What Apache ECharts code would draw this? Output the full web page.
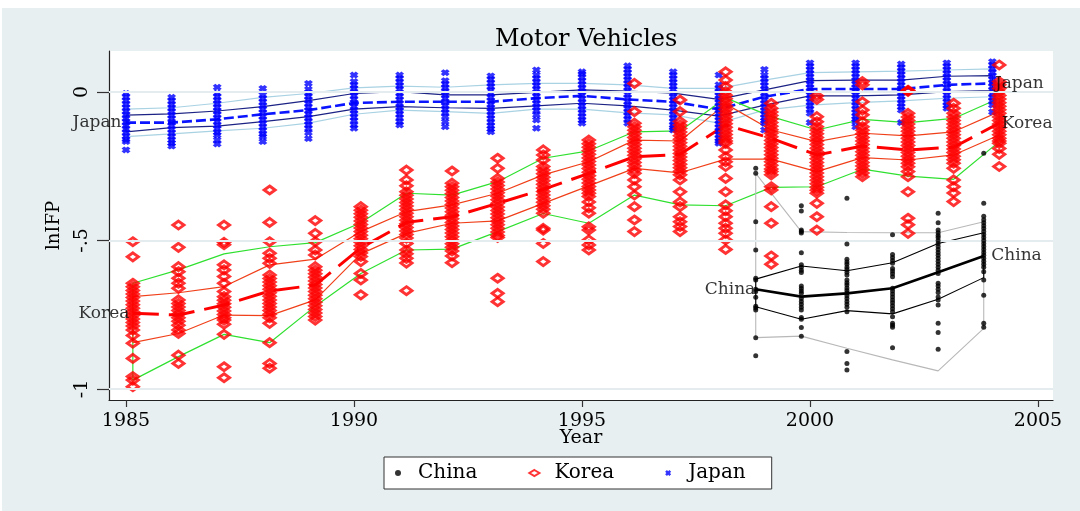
<!DOCTYPE html>
<html><head><meta charset="utf-8">
<script src="https://cdn.jsdelivr.net/npm/echarts@6/dist/echarts.min.js"></script>
<style>html,body{margin:0;padding:0;background:#fff}#c{width:1080px;height:511px}</style>
</head><body><div id="c"></div><script>
// ---------------- data ----------------
const years = [1985,1986,1987,1988,1989,1990,1991,1992,1993,1994,1995,1996,1997,1998,1999,2000,2001,2002,2003,2004];
const cnYears = [1999,2000,2001,2002,2003,2004];
const xTicks = [1985,1990,1995,2000,2005];
const xTickLabels = ['1985','1990','1995','2000','2005'];
const yTicks = [-1,-0.5,0];
const yTickLabels = ['-1','-.5','0'];
const countryNames = ['China','Korea','Japan'];

// Japan: mean, +/-1 sd, +/-2 sd
const jpMean  = [-0.103,-0.103,-0.092,-0.075,-0.061,-0.037,-0.033,-0.033,-0.033,-0.021,-0.013,-0.025,-0.033,-0.058,-0.016,0.010,0.010,0.010,0.024,0.029];
const jpSdUp  = [-0.078,-0.074,-0.064,-0.049,-0.029,-0.005,0.001,-0.010,-0.010,-0.001,0.007,0.003,-0.004,-0.025,0.007,0.038,0.040,0.040,0.053,0.055];
const jpSdLo  = [-0.134,-0.120,-0.115,-0.100,-0.083,-0.058,-0.049,-0.053,-0.055,-0.047,-0.038,-0.047,-0.061,-0.081,-0.044,-0.013,-0.013,-0.010,0.001,0.005];
const jpSd2Up = [-0.058,-0.053,-0.038,-0.018,-0.005,0.014,0.020,0.016,0.024,0.029,0.029,0.024,0.012,0.012,0.040,0.065,0.068,0.070,0.074,0.078];
const jpSd2Lo = [-0.150,-0.141,-0.131,-0.122,-0.105,-0.075,-0.061,-0.066,-0.072,-0.058,-0.058,-0.070,-0.077,-0.105,-0.061,-0.044,-0.036,-0.030,-0.021,-0.016];

// Korea
const krMean  = [-0.745,-0.751,-0.717,-0.670,-0.650,-0.525,-0.439,-0.420,-0.375,-0.328,-0.274,-0.218,-0.210,-0.111,-0.156,-0.212,-0.182,-0.195,-0.186,-0.105];
const krSdUp  = [-0.689,-0.676,-0.655,-0.582,-0.563,-0.470,-0.403,-0.380,-0.341,-0.279,-0.235,-0.162,-0.165,-0.040,-0.128,-0.167,-0.139,-0.148,-0.134,-0.066];
const krSdLo  = [-0.844,-0.813,-0.751,-0.753,-0.700,-0.545,-0.476,-0.442,-0.434,-0.375,-0.316,-0.257,-0.272,-0.226,-0.226,-0.268,-0.221,-0.229,-0.212,-0.145];
const krSd2Up = [-0.644,-0.599,-0.545,-0.521,-0.507,-0.440,-0.341,-0.347,-0.302,-0.223,-0.198,-0.134,-0.131,-0.020,-0.083,-0.128,-0.092,-0.103,-0.089,-0.021];
const krSd2Lo = [-0.970,-0.891,-0.816,-0.844,-0.721,-0.611,-0.532,-0.529,-0.470,-0.409,-0.442,-0.347,-0.380,-0.383,-0.321,-0.319,-0.260,-0.283,-0.294,-0.167];

// China
const cnMean  = [-0.664,-0.689,-0.678,-0.661,-0.607,-0.552];
const cnSdUp  = [-0.630,-0.586,-0.602,-0.575,-0.510,-0.474];
const cnSdLo  = [-0.723,-0.765,-0.736,-0.747,-0.698,-0.625];
const cnSd2Up = [-0.274,-0.470,-0.473,-0.474,-0.474,-0.437];
const cnSd2Lo = [-0.827,-0.822,-0.863,-0.902,-0.939,-0.796];

// firm-level observations, one list per year
const jpPts = [
 [-0.005,-0.017,-0.029,-0.041,-0.053,-0.065,-0.077,-0.089,-0.101,-0.113,-0.125,-0.137,-0.149,-0.16,-0.167,-0.195],
 [-0.018,-0.03,-0.042,-0.054,-0.066,-0.078,-0.09,-0.102,-0.114,-0.126,-0.138,-0.15,-0.162,-0.172,-0.182],
 [0.016,-0.004,-0.016,-0.028,-0.04,-0.052,-0.064,-0.076,-0.088,-0.1,-0.112,-0.124,-0.136,-0.145,-0.162,-0.175],
 [0.012,-0.01,-0.022,-0.034,-0.046,-0.058,-0.07,-0.082,-0.094,-0.106,-0.118,-0.13,-0.142,-0.15,-0.167],
 [0.029,0.009,-0.003,-0.015,-0.027,-0.039,-0.051,-0.063,-0.075,-0.087,-0.099,-0.111,-0.123,-0.137,-0.157],
 [0.057,0.035,0.023,0.011,-0.001,-0.013,-0.025,-0.037,-0.049,-0.061,-0.073,-0.085,-0.097,-0.111,-0.122],
 [0.057,0.045,0.033,0.021,0.009,-0.003,-0.015,-0.027,-0.039,-0.051,-0.063,-0.075,-0.087,-0.1,-0.111],
 [0.065,0.038,0.026,0.014,0.002,-0.01,-0.022,-0.034,-0.046,-0.058,-0.07,-0.083,-0.1,-0.117],
 [0.054,0.042,0.03,0.018,0.006,-0.006,-0.018,-0.03,-0.042,-0.054,-0.066,-0.078,-0.09,-0.102,-0.114,-0.125,-0.134],
 [0.074,0.057,0.045,0.033,0.021,0.009,-0.003,-0.015,-0.027,-0.039,-0.051,-0.063,-0.077,-0.094,-0.122],
 [0.068,0.061,0.049,0.037,0.025,0.013,0.001,-0.011,-0.023,-0.035,-0.047,-0.059,-0.071,-0.083,-0.095,-0.105],
 [0.088,0.076,0.064,0.052,0.04,0.028,0.016,0.004,-0.008,-0.02,-0.032,-0.044,-0.056,-0.068,-0.08,-0.092,-0.105],
 [0.068,0.056,0.044,0.032,0.02,0.008,-0.004,-0.016,-0.028,-0.04,-0.052,-0.064,-0.076,-0.088,-0.1,-0.112,-0.12,-0.128],
 [0.057,0.024,0.012,0,-0.012,-0.024,-0.036,-0.048,-0.06,-0.072,-0.084,-0.096,-0.108,-0.12,-0.132,-0.144,-0.156,-0.166,-0.173],
 [0.076,0.057,0.045,0.033,0.021,0.009,-0.003,-0.015,-0.027,-0.039,-0.051,-0.063,-0.075,-0.087,-0.097,-0.105,-0.128],
 [0.098,0.086,0.074,0.062,0.05,0.038,0.026,0.014,0.002,-0.01,-0.022,-0.034,-0.046,-0.058,-0.072,-0.103],
 [0.098,0.086,0.074,0.062,0.05,0.038,0.026,0.014,0.002,-0.01,-0.022,-0.034,-0.046,-0.058,-0.07,-0.082,-0.092,-0.1,-0.117],
 [0.094,0.082,0.07,0.058,0.046,0.034,0.022,0.01,-0.002,-0.014,-0.026,-0.038,-0.05,-0.061,-0.103],
 [0.098,0.086,0.074,0.062,0.05,0.038,0.026,0.014,0.002,-0.01,-0.022,-0.034,-0.046,-0.055],
 [0.102,0.09,0.078,0.066,0.054,0.042,0.03,0.018,0.006,-0.006,-0.018,-0.03,-0.044,-0.067]
];
const krPts = [
 [-0.504,-0.555,-0.644,-0.656,-0.668,-0.68,-0.692,-0.704,-0.716,-0.728,-0.74,-0.752,-0.764,-0.776,-0.788,-0.801,-0.82,-0.846,-0.897,-0.958,-0.97,-0.992],
 [-0.448,-0.523,-0.588,-0.605,-0.627,-0.644,-0.661,-0.7,-0.712,-0.724,-0.736,-0.748,-0.76,-0.772,-0.785,-0.801,-0.813,-0.886,-0.914],
 [-0.448,-0.506,-0.514,-0.582,-0.599,-0.621,-0.644,-0.672,-0.689,-0.701,-0.713,-0.725,-0.737,-0.749,-0.76,-0.768,-0.782,-0.816,-0.925,-0.962],
 [-0.33,-0.439,-0.504,-0.543,-0.56,-0.577,-0.616,-0.628,-0.64,-0.652,-0.664,-0.676,-0.688,-0.7,-0.712,-0.724,-0.736,-0.748,-0.76,-0.779,-0.844,-0.914,-0.93],
 [-0.433,-0.476,-0.504,-0.532,-0.549,-0.588,-0.6,-0.612,-0.624,-0.636,-0.648,-0.66,-0.672,-0.684,-0.696,-0.708,-0.72,-0.732,-0.744,-0.756,-0.768],
 [-0.386,-0.398,-0.41,-0.422,-0.434,-0.446,-0.458,-0.47,-0.482,-0.494,-0.506,-0.518,-0.53,-0.542,-0.554,-0.571,-0.611,-0.633,-0.683],
 [-0.263,-0.296,-0.316,-0.336,-0.348,-0.36,-0.372,-0.384,-0.396,-0.408,-0.42,-0.432,-0.444,-0.456,-0.468,-0.48,-0.492,-0.51,-0.532,-0.545,-0.56,-0.576,-0.669],
 [-0.266,-0.307,-0.319,-0.331,-0.343,-0.355,-0.367,-0.379,-0.391,-0.403,-0.415,-0.427,-0.439,-0.451,-0.463,-0.475,-0.487,-0.499,-0.511,-0.523,-0.535,-0.552,-0.575],
 [-0.223,-0.257,-0.291,-0.303,-0.315,-0.327,-0.339,-0.351,-0.363,-0.375,-0.387,-0.399,-0.411,-0.423,-0.435,-0.447,-0.459,-0.471,-0.483,-0.49,-0.627,-0.678,-0.706],
 [-0.195,-0.212,-0.229,-0.251,-0.263,-0.275,-0.287,-0.299,-0.311,-0.323,-0.335,-0.347,-0.359,-0.371,-0.383,-0.395,-0.408,-0.459,-0.465,-0.51,-0.571],
 [-0.162,-0.174,-0.186,-0.198,-0.21,-0.222,-0.234,-0.246,-0.258,-0.27,-0.282,-0.294,-0.306,-0.318,-0.33,-0.341,-0.352,-0.37,-0.39,-0.408,-0.454,-0.465,-0.498,-0.515,-0.532],
 [0.029,-0.066,-0.105,-0.117,-0.129,-0.141,-0.153,-0.165,-0.177,-0.189,-0.201,-0.213,-0.225,-0.237,-0.249,-0.263,-0.274,-0.296,-0.319,-0.347,-0.386,-0.431,-0.47],
 [-0.027,-0.066,-0.099,-0.111,-0.123,-0.135,-0.147,-0.159,-0.171,-0.183,-0.195,-0.207,-0.219,-0.231,-0.243,-0.255,-0.267,-0.279,-0.296,-0.336,-0.37,-0.386,-0.42,-0.437,-0.453,-0.47],
 [0.068,0.04,0.018,0.001,-0.011,-0.023,-0.035,-0.047,-0.059,-0.071,-0.083,-0.095,-0.107,-0.119,-0.131,-0.143,-0.155,-0.165,-0.173,-0.195,-0.218,-0.235,-0.251,-0.291,-0.336,-0.38,-0.4,-0.42,-0.442,-0.459,-0.476,-0.498,-0.53],
 [-0.038,-0.055,-0.067,-0.079,-0.091,-0.103,-0.115,-0.127,-0.139,-0.151,-0.163,-0.175,-0.187,-0.199,-0.211,-0.223,-0.235,-0.247,-0.259,-0.268,-0.279,-0.319,-0.33,-0.386,-0.442,-0.552,-0.58],
 [-0.013,-0.025,-0.083,-0.1,-0.117,-0.129,-0.141,-0.153,-0.165,-0.177,-0.189,-0.201,-0.213,-0.225,-0.237,-0.249,-0.261,-0.273,-0.285,-0.297,-0.309,-0.321,-0.331,-0.341,-0.375,-0.42,-0.465],
 [0.035,0.024,-0.033,-0.061,-0.077,-0.1,-0.117,-0.129,-0.141,-0.153,-0.165,-0.177,-0.189,-0.201,-0.213,-0.225,-0.237,-0.249,-0.261,-0.273,-0.285],
 [0.004,0.006,0.002,-0.072,-0.084,-0.096,-0.108,-0.12,-0.132,-0.144,-0.156,-0.168,-0.18,-0.192,-0.204,-0.216,-0.228,-0.24,-0.252,-0.268,-0.285,-0.336,-0.425,-0.447,-0.476],
 [-0.038,-0.055,-0.072,-0.084,-0.096,-0.108,-0.12,-0.132,-0.144,-0.156,-0.168,-0.18,-0.192,-0.204,-0.216,-0.228,-0.24,-0.257,-0.296,-0.319,-0.34,-0.369],
 [0.091,0.035,0.024,0.012,0,-0.012,-0.024,-0.036,-0.048,-0.06,-0.072,-0.084,-0.096,-0.108,-0.12,-0.132,-0.144,-0.156,-0.165,-0.173,-0.19,-0.21,-0.251]
];
const cnPts = [
 [-0.257,-0.274,-0.437,-0.532,-0.627,-0.633,-0.664,-0.672,-0.691,-0.721,-0.727,-0.734,-0.827,-0.888],
 [-0.383,-0.401,-0.465,-0.47,-0.475,-0.541,-0.582,-0.59,-0.6,-0.608,-0.653,-0.662,-0.67,-0.678,-0.695,-0.705,-0.715,-0.725,-0.734,-0.759,-0.765,-0.793,-0.822],
 [-0.358,-0.512,-0.563,-0.572,-0.58,-0.59,-0.598,-0.607,-0.616,-0.633,-0.642,-0.65,-0.66,-0.668,-0.677,-0.686,-0.695,-0.705,-0.715,-0.725,-0.74,-0.874,-0.914,-0.936],
 [-0.481,-0.547,-0.557,-0.567,-0.577,-0.594,-0.603,-0.612,-0.622,-0.661,-0.67,-0.68,-0.69,-0.7,-0.71,-0.72,-0.73,-0.74,-0.757,-0.779,-0.785,-0.792,-0.861],
 [-0.408,-0.44,-0.465,-0.474,-0.483,-0.49,-0.5,-0.51,-0.52,-0.53,-0.54,-0.55,-0.56,-0.57,-0.58,-0.59,-0.6,-0.611,-0.644,-0.653,-0.664,-0.675,-0.69,-0.7,-0.717,-0.779,-0.81,-0.866],
 [-0.206,-0.375,-0.418,-0.43,-0.44,-0.45,-0.46,-0.47,-0.48,-0.49,-0.5,-0.51,-0.52,-0.53,-0.54,-0.55,-0.56,-0.57,-0.58,-0.59,-0.605,-0.633,-0.684,-0.779,-0.792]
];

// horizontal jitter of each country's markers (years)
const OFF = {Japan: 0, Korea: 0.15, China: -0.19};

// ---------------- helpers ----------------
function scatterData(ys, arrs, off) {
  const out = [];
  ys.forEach((y, i) => arrs[i].forEach(v => out.push([y + off, v])));
  return out;
}
function lineData(ys, vals, off) { return ys.map((y, i) => [y + off, vals[i]]); }
function bandData(ys, up, lo, off) {
  const a = ys.map((y, i) => [y + off, up[i]]);
  const b = ys.map((y, i) => [y + off, lo[i]]).reverse();
  return a.concat(b, [a[0]]);
}
function ln(name, data, color, width, type, z) {
  return {type: 'line', name: name, data: data, showSymbol: false, symbol: 'none', silent: true,
          lineStyle: {color: color, width: width, type: type}, z: z, animation: false};
}
function pick(ticks, labels, v) {
  let k = 0; ticks.forEach((t, i) => { if (Math.abs(t - v) < 1e-9) k = i; }); return labels[k];
}
const SERIF = 'DejaVu Serif';
const XPATH = 'path://M0,3L3,0L5,2L7,0L10,3L8,5L10,7L7,10L5,8L3,10L0,7L2,5Z';
const n = years.length - 1, m = cnYears.length - 1;

const series = [
  {type: 'line', name: '_grid', data: [], silent: true, z: 1,
   markLine: {silent: true, symbol: 'none', label: {show: false}, animation: false,
     lineStyle: {color: '#e4ecef', width: 2, type: 'solid'},
     data: yTicks.map(v => ({yAxis: v}))}},
  ln('jp2', bandData(years, jpSd2Up, jpSd2Lo, OFF.Japan), '#a9d2e3', 1.2, 'solid', 2),
  ln('jp1', bandData(years, jpSdUp, jpSdLo, OFF.Japan), '#1c2384', 1.2, 'solid', 2),
  ln('jpm', lineData(years, jpMean, OFF.Japan), '#0a14ff', 2.6, [10, 4], 2),
  ln('kr2', bandData(years, krSd2Up, krSd2Lo, OFF.Korea), '#30e030', 1.2, 'solid', 2),
  ln('kr1', bandData(years, krSdUp, krSdLo, OFF.Korea), '#f0401a', 1.2, 'solid', 2),
  ln('krm', lineData(years, krMean, OFF.Korea), '#ff0000', 3, [26, 10], 2),
  ln('cn2', bandData(cnYears, cnSd2Up, cnSd2Lo, OFF.China), '#b8b8b8', 1.1, 'solid', 2),
  ln('cn1', bandData(cnYears, cnSdUp, cnSdLo, OFF.China), '#000', 1.1, 'solid', 2),
  ln('cnm', lineData(cnYears, cnMean, OFF.China), '#000', 2.6, 'solid', 2),
  {type: 'scatter', name: 'Japan', data: scatterData(years, jpPts, OFF.Japan), symbol: XPATH,
   symbolSize: [9, 7], itemStyle: {color: '#0000ff'}, z: 3, silent: true, animation: false},
  {type: 'scatter', name: 'Korea', data: scatterData(years, krPts, OFF.Korea), symbol: 'diamond',
   symbolSize: [11, 8], itemStyle: {color: 'rgba(255,255,255,0)', borderColor: '#ff0000', borderWidth: 3}, z: 4, silent: true, animation: false},
  {type: 'scatter', name: 'China', data: scatterData(cnYears, cnPts, OFF.China), symbol: 'circle',
   symbolSize: 5, itemStyle: {color: '#000'}, z: 5, silent: true, animation: false},
  {type: 'scatter', name: '_labels', symbolSize: 1, silent: true, z: 6, animation: false,
   itemStyle: {color: 'rgba(0,0,0,0)'},
   label: {show: true, fontFamily: SERIF, fontSize: 17, color: '#000', formatter: p => p.name},
   data: [
     {name: 'Japan', value: [years[0] + OFF.Japan, jpMean[0]], label: {position: 'left', distance: 4}},
     {name: 'Korea', value: [years[0] + OFF.Korea, krMean[0]], label: {position: 'left', distance: 3}},
     {name: 'China', value: [cnYears[0] + OFF.China, cnMean[0]], label: {position: 'left', distance: 0}},
     {name: 'Japan', value: [years[n] + OFF.Japan, jpMean[n]], label: {position: 'right', distance: 2}},
     {name: 'Korea', value: [years[n] + OFF.Korea, krMean[n]], label: {position: 'right', distance: 2}},
     {name: 'China', value: [cnYears[m] + OFF.China, cnMean[m]], label: {position: 'right', distance: 7}}
   ]}
];

const option = {
  animation: false,
  backgroundColor: '#e8eff1',
  graphic: [
    {type: 'rect', left: 0, top: 0, shape: {width: 1080, height: 8}, style: {fill: '#fff'}, silent: true, z: -10},
    {type: 'rect', left: 0, top: 0, shape: {width: 2, height: 511}, style: {fill: '#fff'}, silent: true, z: -10}
  ],
  title: {text: 'Motor Vehicles', left: 490, top: 23,
          textStyle: {fontFamily: SERIF, fontSize: 24, fontWeight: 'normal', color: '#000'}},
  grid: {left: 109, right: 27, top: 51, bottom: 111, show: true, backgroundColor: '#fff', borderWidth: 0},
  legend: {
    data: [{name: 'China', icon: 'circle'}, {name: 'Korea', icon: 'diamond'}, {name: 'Japan', icon: XPATH}],
    left: 384, top: 457, orient: 'horizontal', padding: [5, 26, 5, 11],
    itemWidth: 10, itemHeight: 6, itemGap: 51, selectedMode: false,
    borderColor: '#333', borderWidth: 1, backgroundColor: '#fff', borderRadius: 0,
    textStyle: {fontFamily: SERIF, fontSize: 20, color: '#000', padding: [0, 0, 0, 10], lineHeight: 22}
  },
  xAxis: {
    type: 'value', min: 1984.627, max: 2005.329,
    name: 'Year', nameLocation: 'middle', nameGap: 29, nameMoveOverlap: false,
    nameTextStyle: {fontFamily: SERIF, fontSize: 19, color: '#000'},
    axisLine: {show: true, onZero: false, lineStyle: {color: '#222', width: 1.2}},
    axisTick: {show: true, length: 7, customValues: xTicks, lineStyle: {color: '#333', width: 1.2}},
    axisLabel: {customValues: xTicks, margin: 12, fontFamily: SERIF, fontSize: 19, color: '#000',
      formatter: v => pick(xTicks, xTickLabels, v)},
    splitLine: {show: false}
  },
  yAxis: {
    type: 'value', min: -1.037, max: 0.138,
    name: 'lnIFP', nameLocation: 'middle', nameGap: 46, nameMoveOverlap: false,
    nameTextStyle: {fontFamily: SERIF, fontSize: 18, color: '#000'},
    axisLine: {show: true, onZero: false, lineStyle: {color: '#222', width: 1.2}},
    axisTick: {show: true, length: 12, customValues: yTicks, lineStyle: {color: '#333', width: 1.2}},
    axisLabel: {customValues: yTicks, rotate: 90, margin: 17, fontFamily: SERIF, fontSize: 19, color: '#000',
      formatter: v => pick(yTicks, yTickLabels, v)},
    splitLine: {show: false}
  },
  series: series
};
const chart = echarts.init(document.getElementById('c'), null, {renderer: 'canvas'});
chart.setOption(option);
</script></body></html>
